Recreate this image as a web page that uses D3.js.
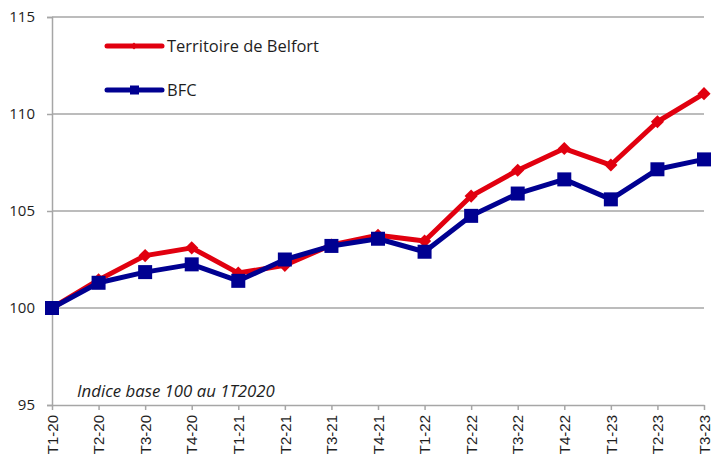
<!DOCTYPE html>
<html><head><meta charset="utf-8">
<script src="https://cdn.jsdelivr.net/npm/d3@7"></script>
<style>body{margin:0;background:#fff}svg{display:block}</style>
</head><body>
<script>
const categories = ["T1-20","T2-20","T3-20","T4-20","T1-21","T2-21","T3-21","T4-21","T1-22","T2-22","T3-22","T4-22","T1-23","T2-23","T3-23"];
const belfort = [100,101.45,102.7,103.1,101.8,102.2,103.25,103.75,103.45,105.77,107.1,108.22,107.37,109.6,111.05];
const bfc = [100,101.3,101.85,102.25,101.4,102.5,103.2,103.57,102.9,104.75,105.9,106.63,105.6,107.15,107.66];
const yTicks = [95,100,105,110,115];
const seriesNames = ["Territoire de Belfort","BFC"];
const colors = ["#E1000F","#000091"];
const note = "Indice base 100 au 1T2020";

const W=711,H=464;
const m={left:52,right:7,top:17,bottom:59};
const svg=d3.select("body").append("svg").attr("width",W).attr("height",H);
const x=d3.scalePoint().domain(categories).range([m.left,W-m.right]);
const y=d3.scaleLinear().domain([95,115]).range([H-m.bottom,m.top]);
const FONT="'Open Sans', sans-serif";

// fit a text to a target width by adjusting font-size
function fit(sel,target){
  const n=sel.node(); const fs=parseFloat(sel.attr("font-size"));
  const w=n.getComputedTextLength(); if(w>0) sel.attr("font-size",(fs*target/w).toFixed(2));
}

svg.append("g").selectAll("line").data(yTicks.slice(1)).join("line")
  .attr("x1",m.left).attr("x2",W-m.right).attr("y1",d=>y(d)).attr("y2",d=>y(d))
  .attr("stroke","#a6a6a6").attr("stroke-width",1.5);

const ya=svg.append("g").attr("transform",`translate(${m.left},0)`)
  .call(d3.axisLeft(y).tickValues(yTicks).tickSize(5).tickPadding(12));
ya.select(".domain").attr("stroke","#a6a6a6").attr("stroke-width",1.5);
ya.selectAll(".tick line").attr("stroke","#a6a6a6").attr("stroke-width",1.5);
ya.selectAll("text").attr("font-family",FONT).attr("font-size",15).attr("fill","#1e1e1e");

const xa=svg.append("g").attr("transform",`translate(0,${y(95)})`)
  .call(d3.axisBottom(x).tickSize(5).tickSizeOuter(0));
xa.select(".domain").attr("stroke","#a6a6a6").attr("stroke-width",1.5);
xa.selectAll(".tick line").attr("stroke","#a6a6a6").attr("stroke-width",1.5);
xa.selectAll("text").attr("font-family","'Liberation Sans', Arial, sans-serif").attr("font-size",15).attr("fill","#1e1e1e")
  .attr("transform","rotate(-90)").attr("text-anchor","end").attr("dy","0.35em").attr("x",-10).attr("y",0);

const line=d3.line().x((d,i)=>x(categories[i])).y(d=>y(d));
const data=[belfort,bfc];
[0,1].forEach(s=>{
  const g=svg.append("g");
  g.append("path").datum(data[s]).attr("d",line).attr("fill","none")
    .attr("stroke",colors[s]).attr("stroke-width",5).attr("stroke-linejoin","round");
  if(s===0){
    g.selectAll("path.m").data(data[s]).join("path").attr("class","m")
      .attr("d",d3.symbol(d3.symbolDiamond2 || d3.symbolDiamond,110))
      .attr("transform",(d,i)=>`translate(${x(categories[i])},${y(d)})`)
      .attr("fill",colors[s]);
  } else {
    g.selectAll("rect").data(data[s]).join("rect")
      .attr("x",(d,i)=>x(categories[i])-7).attr("y",d=>y(d)-7)
      .attr("width",14).attr("height",14).attr("fill",colors[s]);
  }
});

const legY=[46,90];
const legW=[152,29];
seriesNames.forEach((n,s)=>{
  const ly=legY[s];
  svg.append("line").attr("x1",107).attr("x2",162).attr("y1",ly).attr("y2",ly)
    .attr("stroke",colors[s]).attr("stroke-width",5).attr("stroke-linecap","round");
  if(s===0){
    svg.append("path").attr("d",d3.symbol(d3.symbolDiamond2||d3.symbolDiamond,30)).attr("transform",`translate(134,${ly})`).attr("fill",colors[s]);
  } else {
    svg.append("rect").attr("x",130).attr("y",ly-4.5).attr("width",9).attr("height",9).attr("fill",colors[s]);
  }
  const t=svg.append("text").attr("x",167).attr("y",ly).attr("dy","0.35em").text(n)
    .attr("font-family",FONT).attr("font-size",15).attr("fill","#1e1e1e");
  if(s===0) fit(t,legW[0]);
  else t.attr("font-size",svg.select("text[x='167']").attr("font-size"));
});

const nt=svg.append("text").attr("x",77).attr("y",391).attr("dy","0.35em").text(note)
  .attr("font-family",FONT).attr("font-style","italic").attr("font-size",14).attr("fill","#1e1e1e");
fit(nt,198);
</script>
</body></html>
